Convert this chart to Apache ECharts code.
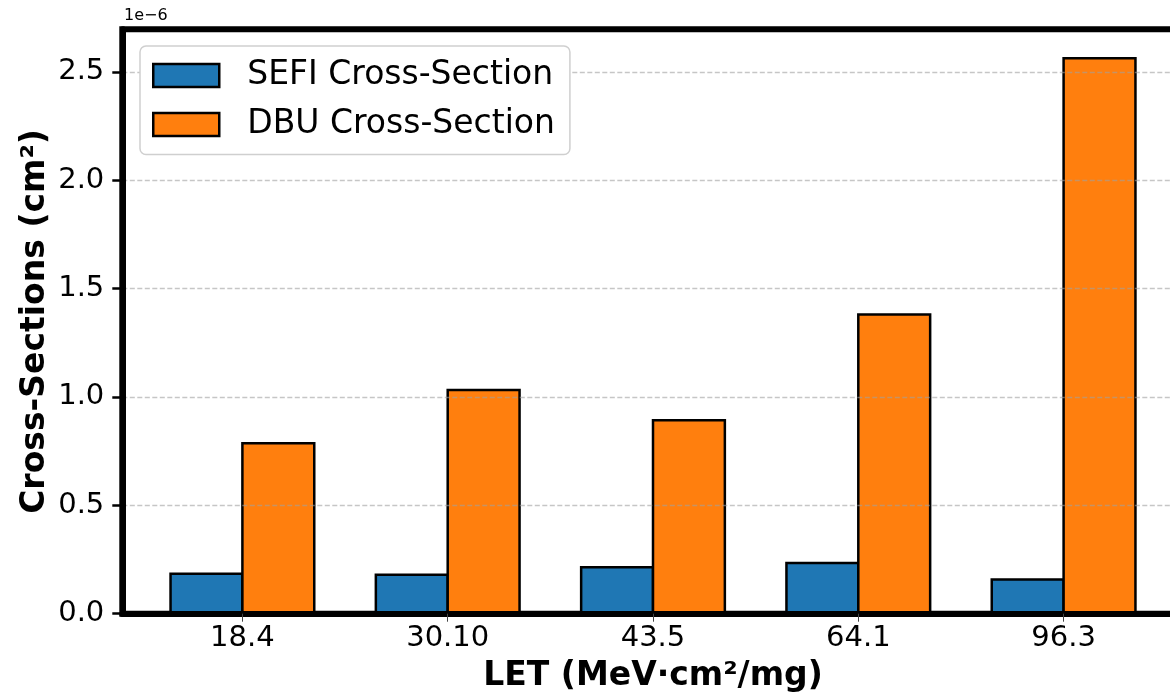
<!DOCTYPE html>
<html>
<head>
<meta charset="utf-8">
<script src="https://cdn.jsdelivr.net/npm/echarts@6/dist/echarts.min.js"></script>
<style>
  html, body { margin: 0; padding: 0; background: #fff; }
  #chart { width: 1170px; height: 695px; }
</style>
</head>
<body>
<div id="chart"></div>
<script>
// LET values (MeV·cm²/mg) used as category labels
const letLabels = ['18.4', '30.10', '43.5', '64.1', '96.3'];
// Cross-sections in units of 1e-6 cm²
const sefiCrossSection = [0.19, 0.186, 0.22, 0.24, 0.163];
const dbuCrossSection = [0.792, 1.038, 0.898, 1.386, 2.568];
const yTicks = [0, 0.5, 1.0, 1.5, 2.0, 2.5];
const seriesNames = ['SEFI Cross-Section', 'DBU Cross-Section'];
const scaleText = '1e\u22126';

const FONT = 'DejaVu Sans';
const xPositions = letLabels.map((_, i) => i);
const yMax = Math.max(...sefiCrossSection, ...dbuCrossSection) * 1.05;
const barFrac = 0.35;
const barPad = barFrac + 0.05 * (xPositions.length - 1 + 2 * barFrac);

// plot area geometry (pixels)
const plotLeft = 122.3, plotTop = 29.2, plotWidth = 1061.4, plotHeight = 584.5;
const unitPx = plotWidth / (xPositions.length - 1 + 2 * barPad);

// bar outline is centred on the bar edge, so the drawn rect is widened by one
// stroke and neighbouring bars share their common edge
const edgeW = 2.5;
const barPx = barFrac * unitPx + edgeW;
const barGapPct = (-edgeW / barPx * 100) + '%';

const chart = echarts.init(document.getElementById('chart'), null, { renderer: 'canvas' });

chart.setOption({
  animation: false,
  backgroundColor: '#ffffff',
  textStyle: { fontFamily: FONT },
  grid: {
    left: plotLeft,
    top: plotTop,
    width: plotWidth,
    height: plotHeight,
    outerBoundsMode: 'none',
    containLabel: false,
    show: true,
    borderColor: '#000',
    borderWidth: 6,
    backgroundColor: 'transparent'
  },
  legend: {
    orient: 'vertical',
    left: 140,
    top: 46,
    padding: [9.5, 15, 10, 12],
    itemGap: 9,
    itemWidth: 66,
    itemHeight: 23,
    backgroundColor: '#ffffff',
    borderColor: '#cfcfcf',
    borderWidth: 1.5,
    borderRadius: 6,
    icon: 'rect',
    itemStyle: { borderColor: '#000', borderWidth: 2.5 },
    textStyle: {
      fontFamily: FONT,
      fontSize: 33,
      color: '#000',
      lineHeight: 40,
      padding: [0, 0, 0, 23]
    },
    data: seriesNames
  },
  xAxis: {
    type: 'value',
    min: -barPad,
    max: xPositions.length - 1 + barPad,
    z: 3,
    name: 'LET (MeV·cm²/mg)',
    nameLocation: 'middle',
    nameGap: 46,
    nameMoveOverlap: false,
    nameTextStyle: { fontFamily: FONT, fontSize: 33, fontWeight: 'bold', color: '#000', verticalAlign: 'top' },
    axisLine: { show: true, onZero: false, lineStyle: { color: '#000', width: 6 } },
    axisTick: { show: true, customValues: xPositions, length: 8, lineStyle: { color: '#444', width: 1 } },
    axisLabel: {
      customValues: xPositions,
      formatter: v => letLabels[Math.round(v)] ?? '',
      fontFamily: FONT, fontSize: 29, color: '#000', margin: 10
    },
    splitLine: { show: false }
  },
  yAxis: {
    type: 'value',
    min: 0,
    max: yMax,
    interval: 0.5,
    z: 3,
    name: 'Cross-Sections (cm²)',
    nameLocation: 'middle',
    nameGap: 70,
    nameMoveOverlap: false,
    nameTextStyle: { fontFamily: FONT, fontSize: 33, fontWeight: 'bold', color: '#000' },
    axisLine: { show: true, onZero: false, lineStyle: { color: '#000', width: 6 } },
    axisTick: { show: true, customValues: yTicks, length: 10, lineStyle: { color: '#000', width: 2.5 } },
    axisLabel: {
      customValues: yTicks,
      formatter: v => v.toFixed(1),
      fontFamily: FONT, fontSize: 29, color: '#000', margin: 18
    },
    splitLine: {
      show: true,
      lineStyle: { color: 'rgba(160,160,160,0.6)', width: 1.3, type: [5, 2.5] }
    }
  },
  graphic: [{
    type: 'text',
    left: 124,
    top: 8,
    style: { text: scaleText, font: '16px "DejaVu Sans"', fill: '#000' }
  }],
  series: [
    {
      name: seriesNames[0],
      type: 'bar',
      barWidth: barPx,
      barGap: barGapPct,
      itemStyle: { color: '#1f77b4', borderColor: '#000', borderWidth: edgeW },
      data: xPositions.map((x, i) => [x, sefiCrossSection[i]])
    },
    {
      name: seriesNames[1],
      type: 'bar',
      barWidth: barPx,
      barGap: barGapPct,
      itemStyle: { color: '#ff7f0e', borderColor: '#000', borderWidth: edgeW },
      data: xPositions.map((x, i) => [x, dbuCrossSection[i]])
    }
  ]
});
</script>
</body>
</html>
